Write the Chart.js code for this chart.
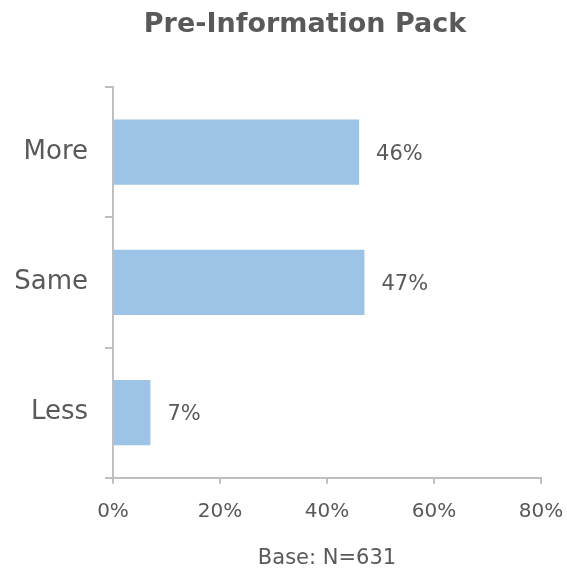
<!DOCTYPE html>
<html>
<head>
<meta charset="utf-8">
<script src="https://cdn.jsdelivr.net/npm/chart.js@4"></script>
<style>
  html, body { margin: 0; padding: 0; background: #fff; }
  #wrap { width: 567px; height: 571px; }
</style>
</head>
<body>
<div id="wrap"><canvas id="grafico"></canvas></div>
<script>
// Datos del gráfico
const categorias = ['More', 'Same', 'Less'];
const valores = [46, 47, 7];
const ticksX = [0, 20, 40, 60, 80];
const titulo = 'Pre-Information Pack';
const tituloEje = 'Base: N=631';

const gris = '#595959';
const grisEje = '#BFBFBF';
const fuente = "'DejaVu Sans', sans-serif";

// Título dibujado a mano (desplazado como en el original)
const tituloManual = {
  id: 'tituloManual',
  afterDraw(chart) {
    const ctx = chart.ctx;
    ctx.save();
    ctx.font = 'bold 27px ' + fuente;
    ctx.fillStyle = gris;
    ctx.textAlign = 'center';
    ctx.textBaseline = 'middle';
    ctx.fillText(titulo, 305, 25);
    ctx.restore();
  }
};

// Etiquetas de valor al final de cada barra
const etiquetasBarras = {
  id: 'etiquetasBarras',
  afterDatasetsDraw(chart) {
    const ctx = chart.ctx;
    const meta = chart.getDatasetMeta(0);
    ctx.save();
    ctx.font = '21px ' + fuente;
    ctx.fillStyle = gris;
    ctx.textAlign = 'left';
    ctx.textBaseline = 'middle';
    meta.data.forEach((barra, i) => {
      ctx.fillText(valores[i] + '%', barra.x + 17, barra.y + 2);
    });
    ctx.restore();
  }
};

new Chart(document.getElementById('grafico'), {
  type: 'bar',
  data: {
    labels: categorias,
    datasets: [{
      data: valores,
      backgroundColor: '#9DC3E6',
      borderWidth: 0,
      barPercentage: 0.5,
      categoryPercentage: 1
    }]
  },
  options: {
    indexAxis: 'y',
    responsive: true,
    maintainAspectRatio: false,
    animation: false,
    layout: { padding: { top: 87, right: 26, left: 0, bottom: 0 } },
    plugins: {
      legend: { display: false },
      tooltip: { enabled: false },
      title: { display: false }
    },
    scales: {
      x: {
        min: 0,
        max: 80,
        afterBuildTicks(axis) { axis.ticks = ticksX.map(v => ({ value: v })); },
        afterFit(axis) { axis.paddingLeft = 0; axis.paddingRight = 0; },
        border: { color: grisEje, width: 2 },
        grid: { drawOnChartArea: false, drawTicks: true, tickLength: 6, color: grisEje, lineWidth: 2 },
        ticks: {
          color: gris,
          font: { family: fuente, size: 20 },
          padding: 16,
          callback: v => v + '%'
        },
        title: {
          display: true,
          text: tituloEje,
          color: gris,
          font: { family: fuente, size: 21 },
          padding: { top: 6, bottom: 0 }
        }
      },
      y: {
        afterFit(axis) { axis.width = 113; },
        border: { color: grisEje, width: 2 },
        grid: { offset: true, drawOnChartArea: false, drawTicks: true, tickLength: 8, color: grisEje, lineWidth: 2 },
        ticks: {
          color: gris,
          font: { family: fuente, size: 26 },
          padding: 17
        }
      }
    }
  },
  plugins: [etiquetasBarras, tituloManual]
});
</script>
</body>
</html>
